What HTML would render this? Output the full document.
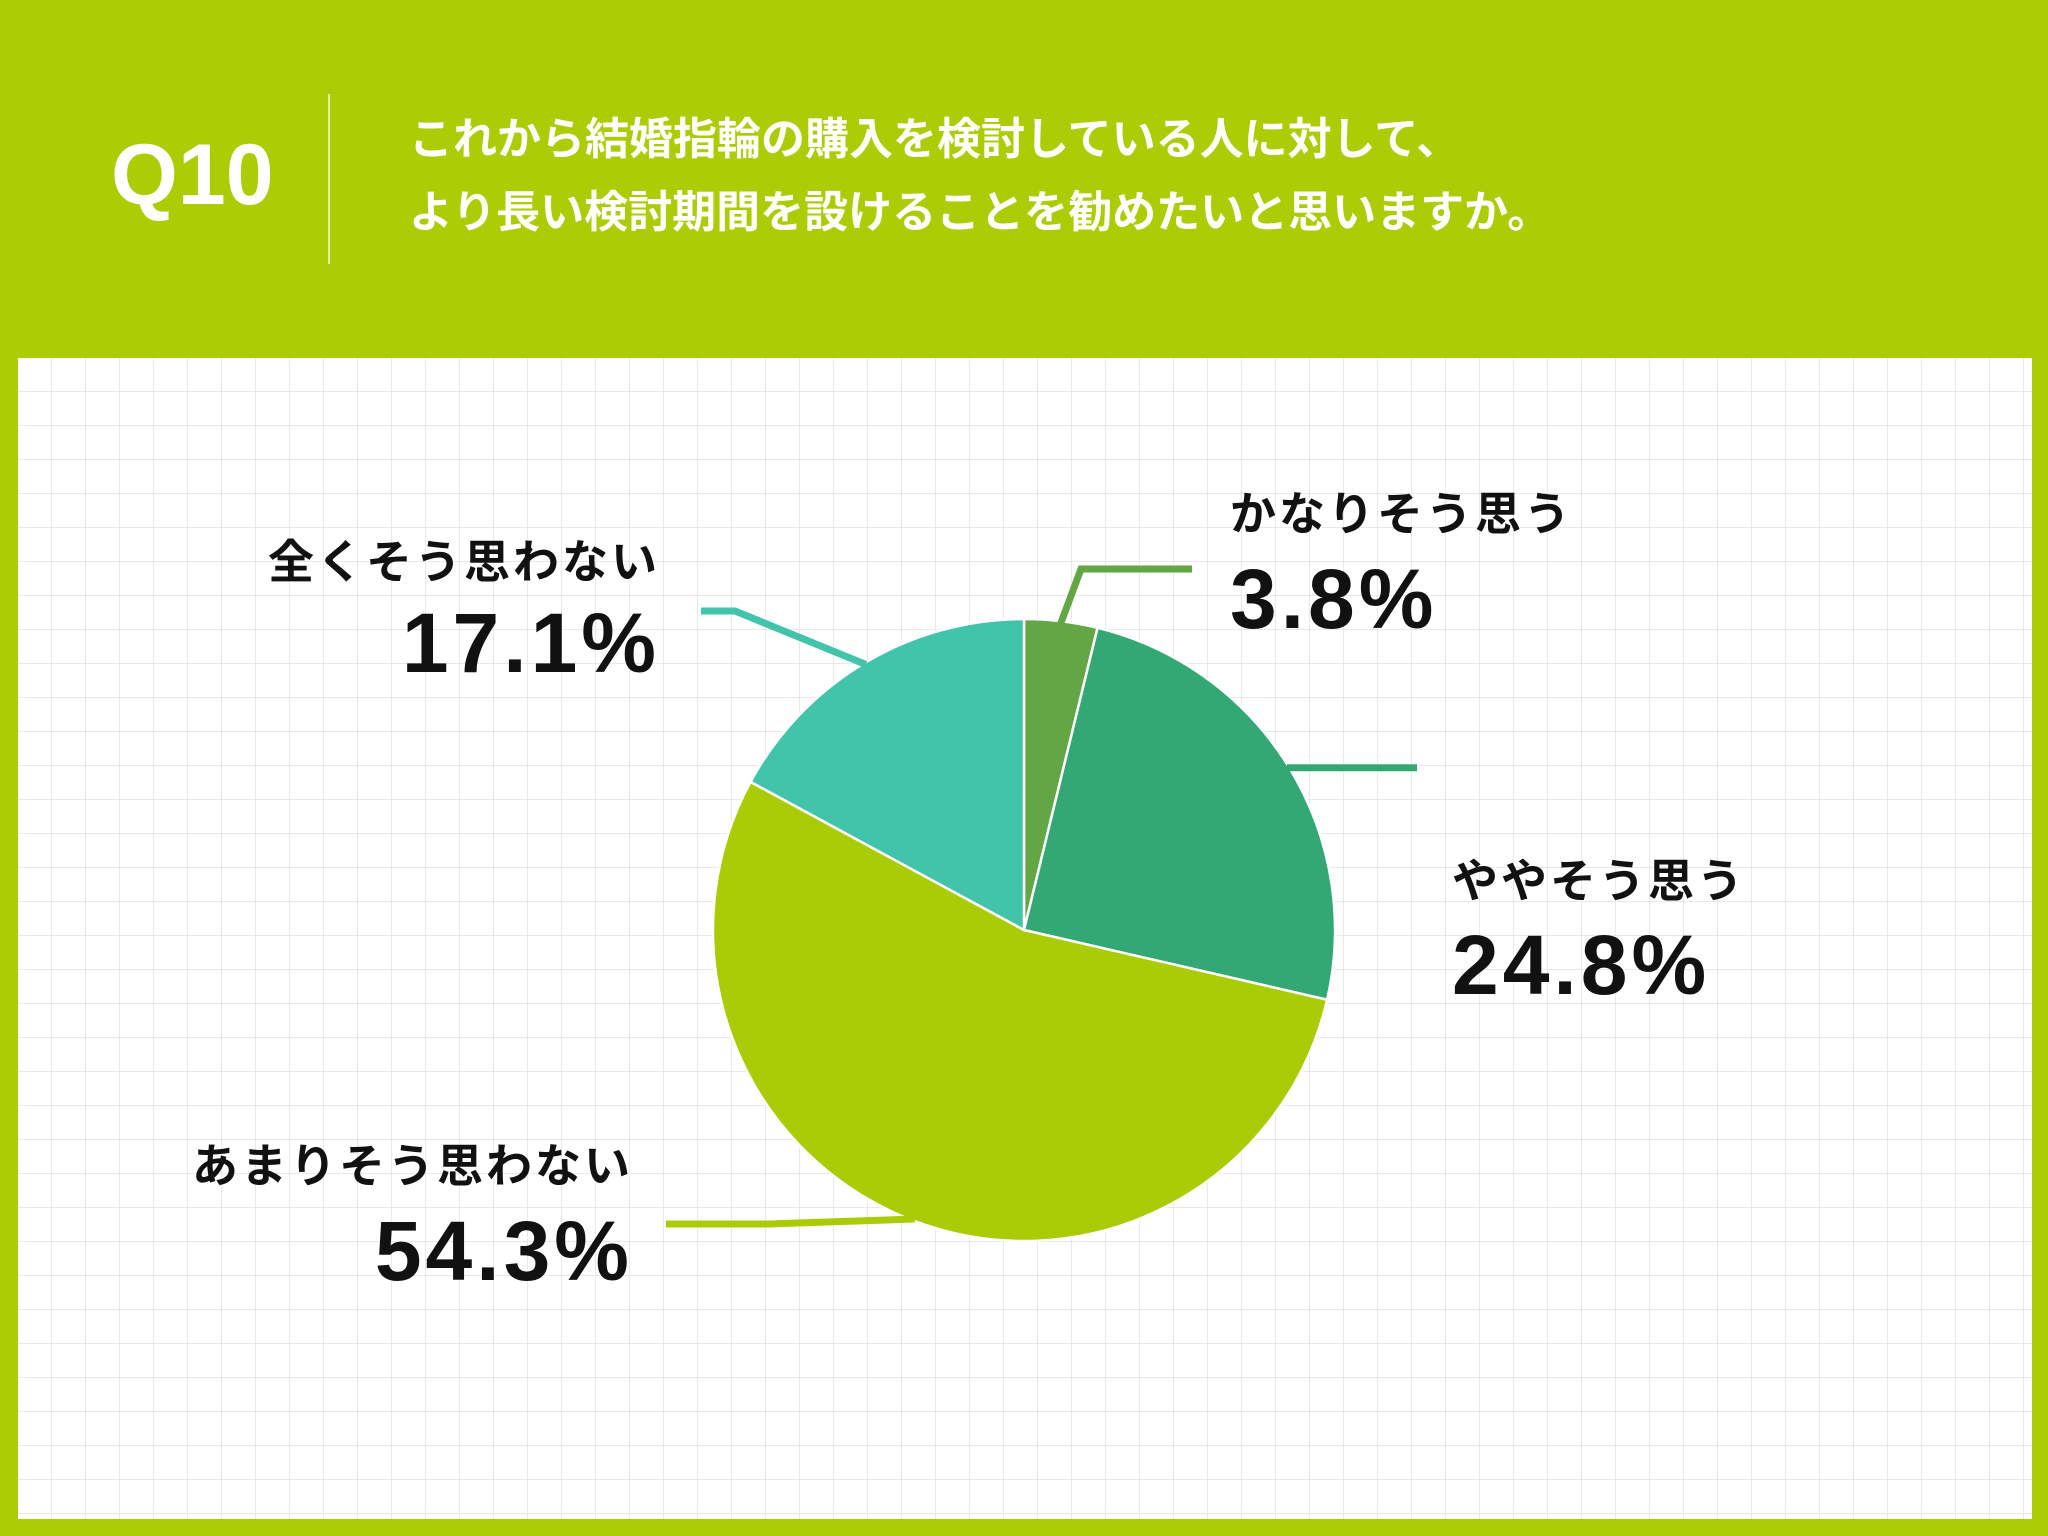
<!DOCTYPE html>
<html><head><meta charset="utf-8"><style>
html,body{margin:0;padding:0;background:#accd06;}
svg{display:block;}
</style></head><body>
<svg id="chart" width="2048" height="1536" viewBox="0 0 2048 1536" xmlns="http://www.w3.org/2000/svg" font-family="'Liberation Sans','Noto Sans CJK JP',sans-serif">
<defs>
<pattern id="grid" x="18" y="358" width="34" height="34" patternUnits="userSpaceOnUse">
<path d="M34 0V34M0 34H34" stroke="#e2e2e2" stroke-width="1.5" fill="none"/>
</pattern>
</defs>
<rect x="0" y="0" width="2048" height="1536" fill="#accd06"/>
<text x="111" y="204" font-size="86" font-weight="bold" fill="#fff">Q10</text>
<line x1="329" y1="94" x2="329" y2="264" stroke="#e3ee9e" stroke-width="2"/>
<text x="409" y="154" font-size="44" font-weight="bold" fill="#fff">これから結婚指輪の購入を検討している人に対して、</text>
<text x="409" y="227" font-size="44" font-weight="bold" fill="#fff">より長い検討期間を設けることを勧めたいと思いますか。</text>
<rect x="18" y="358" width="2014" height="1161" fill="#fff"/>
<rect x="18" y="358" width="2014" height="1161" fill="url(#grid)"/>
<g id="slices"></g>
<g id="leaders"></g>
<g id="labels"></g>
</svg>
<script>
const categories = ["かなりそう思う","ややそう思う","あまりそう思わない","全くそう思わない"];
const values = [3.8, 24.8, 54.3, 17.1];
const valueLabels = ["3.8%","24.8%","54.3%","17.1%"];
const colors = ["#63a744","#34a874","#aacc06","#41c4aa"];
const NS="http://www.w3.org/2000/svg";
const cx=1024, cy=930, r=311;
const total=values.reduce((a,b)=>a+b,0);
function ang(v){return v/total*2*Math.PI;}
function pt(a,rr){return [cx+rr*Math.sin(a), cy-rr*Math.cos(a)];}
const sl=document.getElementById('slices');
let acc=0;
const mids=[];
values.forEach((v,i)=>{
  const a0=ang(acc), a1=ang(acc+v); acc+=v;
  mids.push((a0+a1)/2);
  const p0=pt(a0,r), p1=pt(a1,r);
  const large=(a1-a0)>Math.PI?1:0;
  const p=document.createElementNS(NS,'path');
  p.setAttribute('d',`M${cx} ${cy}L${p0[0]} ${p0[1]}A${r} ${r} 0 ${large} 1 ${p1[0]} ${p1[1]}Z`);
  p.setAttribute('fill',colors[i]);
  p.setAttribute('stroke','#fff');
  p.setAttribute('stroke-width','2.5');
  
  
  sl.appendChild(p);
});
// label layout: [elbowX, elbowY, endX, textX, catY, valY, anchor]
const layout=[
  {ex:1081,ey:569,endx:1192,tx:1230,cy:530,vy:628,anchor:'start'},
  {ex:1335,ey:936,endx:1417,tx:1452,cy:897,vy:994,anchor:'start'},
  {ex:768,ey:1224,endx:666,tx:633,cy:1182,vy:1280,anchor:'end'},
  {ex:735,ey:611,endx:701,tx:660,cy:578,vy:672,anchor:'end'}
];
const ld=document.getElementById('leaders'), lb=document.getElementById('labels');
layout.forEach((L,i)=>{
  const s=pt(mids[i],r-2);
  let ex=L.ex, ey=L.ey;
  if(i===1){ey=s[1];}
  const pl=document.createElementNS(NS,'polyline');
  pl.setAttribute('points',`${s[0]},${s[1]} ${ex},${ey} ${L.endx},${ey}`);
  pl.setAttribute('fill','none');
  pl.setAttribute('stroke',colors[i]);
  pl.setAttribute('stroke-width','7');
  
  
  ld.appendChild(pl);
  const t1=document.createElementNS(NS,'text');
  t1.setAttribute('x',L.tx); t1.setAttribute('y',L.cy);
  t1.setAttribute('text-anchor',L.anchor);
  t1.setAttribute('font-size','46'); t1.setAttribute('font-weight','bold');
  t1.setAttribute('letter-spacing','3'); t1.setAttribute('fill','#111');
  t1.textContent=categories[i];
  
  
  lb.appendChild(t1);
  const t2=document.createElementNS(NS,'text');
  t2.setAttribute('x',L.tx); t2.setAttribute('y',L.vy);
  t2.setAttribute('text-anchor',L.anchor);
  t2.setAttribute('font-size','84'); t2.setAttribute('font-weight','bold');
  t2.setAttribute('letter-spacing','4'); t2.setAttribute('fill','#111');
  t2.textContent=valueLabels[i];
  
  
  lb.appendChild(t2);
});
</script>
</body></html>
